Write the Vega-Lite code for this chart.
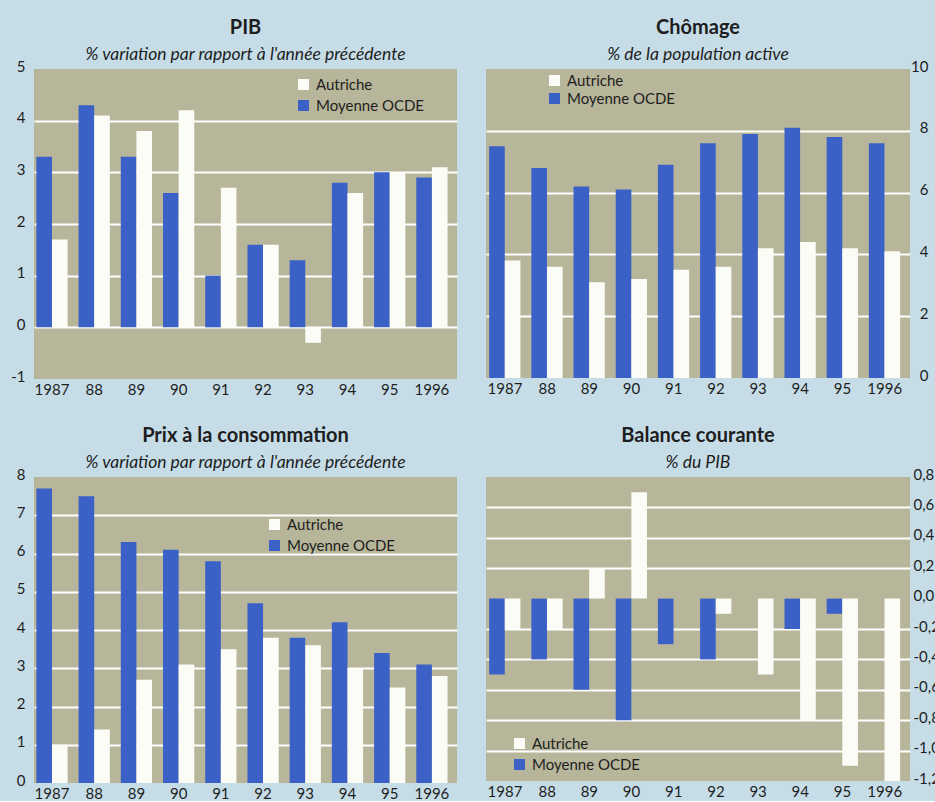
{
  "$schema": "https://vega.github.io/schema/vega-lite/v6.json",
  "background": "#c6dde8",
  "padding": {"left": 0, "top": 17, "right": 0, "bottom": 0},
  "config": {
    "font": "Lato",
    "locale": {"number": {"decimal": ",", "thousands": " ", "grouping": [3], "currency": ["", " €"], "minus": "-"}},
    "view": {"fill": "#b7b69a", "stroke": null},
    "axis": {
      "labelFont": "Lato", "labelFontSize": 15, "labelColor": "#1e1e1e",
      "ticks": false, "domain": false, "title": null,
      "gridColor": "#ffffff", "gridWidth": 2
    },
    "axisX": {"grid": false, "labelAngle": 0, "labelPadding": 3},
    "axisY": {"labelOffset": -3},
    "title": {
      "font": "Lato", "fontSize": 20, "fontWeight": "bold", "color": "#1e1e1e",
      "subtitleFont": "Lato", "subtitleFontSize": 17.5, "subtitleFontStyle": "italic",
      "subtitleColor": "#1e1e1e", "subtitlePadding": 8, "offset": -4, "anchor": "middle"
    },
    "legend": {
      "orient": "none", "title": null, "direction": "vertical",
      "symbolType": "square", "symbolSize": 121, "symbolStrokeWidth": 0, "symbolOpacity": 1,
      "labelFont": "Lato", "labelFontSize": 15, "labelColor": "#1e1e1e",
      "labelOffset": 5, "padding": 0, "rowPadding": 5
    }
  },
  "datasets": {
    "pib": [
      {"annee": "1987", "serie": "Moyenne OCDE", "valeur": 3.3}, {"annee": "1987", "serie": "Autriche", "valeur": 1.7},
      {"annee": "88", "serie": "Moyenne OCDE", "valeur": 4.3}, {"annee": "88", "serie": "Autriche", "valeur": 4.1},
      {"annee": "89", "serie": "Moyenne OCDE", "valeur": 3.3}, {"annee": "89", "serie": "Autriche", "valeur": 3.8},
      {"annee": "90", "serie": "Moyenne OCDE", "valeur": 2.6}, {"annee": "90", "serie": "Autriche", "valeur": 4.2},
      {"annee": "91", "serie": "Moyenne OCDE", "valeur": 1.0}, {"annee": "91", "serie": "Autriche", "valeur": 2.7},
      {"annee": "92", "serie": "Moyenne OCDE", "valeur": 1.6}, {"annee": "92", "serie": "Autriche", "valeur": 1.6},
      {"annee": "93", "serie": "Moyenne OCDE", "valeur": 1.3}, {"annee": "93", "serie": "Autriche", "valeur": -0.3},
      {"annee": "94", "serie": "Moyenne OCDE", "valeur": 2.8}, {"annee": "94", "serie": "Autriche", "valeur": 2.6},
      {"annee": "95", "serie": "Moyenne OCDE", "valeur": 3.0}, {"annee": "95", "serie": "Autriche", "valeur": 3.0},
      {"annee": "1996", "serie": "Moyenne OCDE", "valeur": 2.9}, {"annee": "1996", "serie": "Autriche", "valeur": 3.1}
    ],
    "chomage": [
      {"annee": "1987", "serie": "Moyenne OCDE", "valeur": 7.5}, {"annee": "1987", "serie": "Autriche", "valeur": 3.8},
      {"annee": "88", "serie": "Moyenne OCDE", "valeur": 6.8}, {"annee": "88", "serie": "Autriche", "valeur": 3.6},
      {"annee": "89", "serie": "Moyenne OCDE", "valeur": 6.2}, {"annee": "89", "serie": "Autriche", "valeur": 3.1},
      {"annee": "90", "serie": "Moyenne OCDE", "valeur": 6.1}, {"annee": "90", "serie": "Autriche", "valeur": 3.2},
      {"annee": "91", "serie": "Moyenne OCDE", "valeur": 6.9}, {"annee": "91", "serie": "Autriche", "valeur": 3.5},
      {"annee": "92", "serie": "Moyenne OCDE", "valeur": 7.6}, {"annee": "92", "serie": "Autriche", "valeur": 3.6},
      {"annee": "93", "serie": "Moyenne OCDE", "valeur": 7.9}, {"annee": "93", "serie": "Autriche", "valeur": 4.2},
      {"annee": "94", "serie": "Moyenne OCDE", "valeur": 8.1}, {"annee": "94", "serie": "Autriche", "valeur": 4.4},
      {"annee": "95", "serie": "Moyenne OCDE", "valeur": 7.8}, {"annee": "95", "serie": "Autriche", "valeur": 4.2},
      {"annee": "1996", "serie": "Moyenne OCDE", "valeur": 7.6}, {"annee": "1996", "serie": "Autriche", "valeur": 4.1}
    ],
    "prix": [
      {"annee": "1987", "serie": "Moyenne OCDE", "valeur": 7.7}, {"annee": "1987", "serie": "Autriche", "valeur": 1.0},
      {"annee": "88", "serie": "Moyenne OCDE", "valeur": 7.5}, {"annee": "88", "serie": "Autriche", "valeur": 1.4},
      {"annee": "89", "serie": "Moyenne OCDE", "valeur": 6.3}, {"annee": "89", "serie": "Autriche", "valeur": 2.7},
      {"annee": "90", "serie": "Moyenne OCDE", "valeur": 6.1}, {"annee": "90", "serie": "Autriche", "valeur": 3.1},
      {"annee": "91", "serie": "Moyenne OCDE", "valeur": 5.8}, {"annee": "91", "serie": "Autriche", "valeur": 3.5},
      {"annee": "92", "serie": "Moyenne OCDE", "valeur": 4.7}, {"annee": "92", "serie": "Autriche", "valeur": 3.8},
      {"annee": "93", "serie": "Moyenne OCDE", "valeur": 3.8}, {"annee": "93", "serie": "Autriche", "valeur": 3.6},
      {"annee": "94", "serie": "Moyenne OCDE", "valeur": 4.2}, {"annee": "94", "serie": "Autriche", "valeur": 3.0},
      {"annee": "95", "serie": "Moyenne OCDE", "valeur": 3.4}, {"annee": "95", "serie": "Autriche", "valeur": 2.5},
      {"annee": "1996", "serie": "Moyenne OCDE", "valeur": 3.1}, {"annee": "1996", "serie": "Autriche", "valeur": 2.8}
    ],
    "balance": [
      {"annee": "1987", "serie": "Moyenne OCDE", "valeur": -0.5}, {"annee": "1987", "serie": "Autriche", "valeur": -0.2},
      {"annee": "88", "serie": "Moyenne OCDE", "valeur": -0.4}, {"annee": "88", "serie": "Autriche", "valeur": -0.2},
      {"annee": "89", "serie": "Moyenne OCDE", "valeur": -0.6}, {"annee": "89", "serie": "Autriche", "valeur": 0.2},
      {"annee": "90", "serie": "Moyenne OCDE", "valeur": -0.8}, {"annee": "90", "serie": "Autriche", "valeur": 0.7},
      {"annee": "91", "serie": "Moyenne OCDE", "valeur": -0.3}, {"annee": "91", "serie": "Autriche", "valeur": 0.0},
      {"annee": "92", "serie": "Moyenne OCDE", "valeur": -0.4}, {"annee": "92", "serie": "Autriche", "valeur": -0.1},
      {"annee": "93", "serie": "Moyenne OCDE", "valeur": 0.0}, {"annee": "93", "serie": "Autriche", "valeur": -0.5},
      {"annee": "94", "serie": "Moyenne OCDE", "valeur": -0.2}, {"annee": "94", "serie": "Autriche", "valeur": -0.8},
      {"annee": "95", "serie": "Moyenne OCDE", "valeur": -0.1}, {"annee": "95", "serie": "Autriche", "valeur": -1.1},
      {"annee": "1996", "serie": "Moyenne OCDE", "valeur": 0.0}, {"annee": "1996", "serie": "Autriche", "valeur": -1.2}
    ]
  },
  "columns": 2,
  "spacing": {"row": 28, "column": 29},
  "resolve": {"legend": {"color": "independent"}},
  "concat": [
    {
      "width": 423, "height": 310,
      "title": {"text": "PIB", "subtitle": "% variation par rapport à l'année précédente"},
      "data": {"name": "pib"},
      "mark": {"type": "bar"},
      "encoding": {
        "x": {"field": "annee", "type": "ordinal", "sort": null,
              "scale": {"paddingInner": 0.26, "paddingOuter": 0.14, "align": 0.2}},
        "xOffset": {"field": "serie", "sort": ["Moyenne OCDE", "Autriche"], "scale": {"paddingInner": 0, "paddingOuter": 0}},
        "y": {"field": "valeur", "type": "quantitative",
              "scale": {"domain": [-1, 5], "nice": false, "zero": false},
              "axis": {"orient": "left", "values": [-1, 0, 1, 2, 3, 4, 5], "format": "d",
                       "labelPadding": 9, "minExtent": 34, "maxExtent": 34,
                       "gridOpacity": {"condition": {"test": "datum.value <= -1 || datum.value >= 5", "value": 0}, "value": 1}}},
        "color": {"field": "serie", "type": "nominal",
                  "scale": {"domain": ["Autriche", "Moyenne OCDE"], "range": ["#fcfcf7", "#3b61c6"]},
                  "legend": {"legendX": 262, "legendY": 8}}
      }
    },
    {
      "width": 424, "height": 309,
      "title": {"text": "Chômage", "subtitle": "% de la population active"},
      "data": {"name": "chomage"},
      "mark": {"type": "bar"},
      "encoding": {
        "x": {"field": "annee", "type": "ordinal", "sort": null,
              "scale": {"paddingInner": 0.25, "paddingOuter": 0.15, "align": 0.25}},
        "xOffset": {"field": "serie", "sort": ["Moyenne OCDE", "Autriche"], "scale": {"paddingInner": 0, "paddingOuter": 0}},
        "y": {"field": "valeur", "type": "quantitative",
              "scale": {"domain": [0, 10], "nice": false},
              "axis": {"orient": "right", "values": [0, 2, 4, 6, 8, 10], "format": "d",
                       "labelAlign": "right", "labelPadding": 18,
                       "gridOpacity": {"condition": {"test": "datum.value <= 0 || datum.value >= 10", "value": 0}, "value": 1}}},
        "color": {"field": "serie", "type": "nominal",
                  "scale": {"domain": ["Autriche", "Moyenne OCDE"], "range": ["#fcfcf7", "#3b61c6"]},
                  "legend": {"legendX": 61, "legendY": 4, "rowPadding": 2}}
      }
    },
    {
      "width": 423, "height": 306,
      "title": {"text": "Prix à la consommation", "subtitle": "% variation par rapport à l'année précédente"},
      "data": {"name": "prix"},
      "mark": {"type": "bar"},
      "encoding": {
        "x": {"field": "annee", "type": "ordinal", "sort": null,
              "scale": {"paddingInner": 0.26, "paddingOuter": 0.14, "align": 0.2}},
        "xOffset": {"field": "serie", "sort": ["Moyenne OCDE", "Autriche"], "scale": {"paddingInner": 0, "paddingOuter": 0}},
        "y": {"field": "valeur", "type": "quantitative",
              "scale": {"domain": [0, 8], "nice": false},
              "axis": {"orient": "left", "values": [0, 1, 2, 3, 4, 5, 6, 7, 8], "format": "d",
                       "labelPadding": 9, "minExtent": 34, "maxExtent": 34,
                       "gridOpacity": {"condition": {"test": "datum.value <= 0 || datum.value >= 8", "value": 0}, "value": 1}}},
        "color": {"field": "serie", "type": "nominal",
                  "scale": {"domain": ["Autriche", "Moyenne OCDE"], "range": ["#fcfcf7", "#3b61c6"]},
                  "legend": {"legendX": 233, "legendY": 40}}
      }
    },
    {
      "width": 424, "height": 304,
      "title": {"text": "Balance courante", "subtitle": "% du PIB"},
      "data": {"name": "balance"},
      "mark": {"type": "bar"},
      "encoding": {
        "x": {"field": "annee", "type": "ordinal", "sort": null,
              "scale": {"paddingInner": 0.25, "paddingOuter": 0.15, "align": 0.25}},
        "xOffset": {"field": "serie", "sort": ["Moyenne OCDE", "Autriche"], "scale": {"paddingInner": 0, "paddingOuter": 0}},
        "y": {"field": "valeur", "type": "quantitative",
              "scale": {"domain": [-1.2, 0.8], "nice": false, "zero": false},
              "axis": {"orient": "right", "values": [-1.2, -1.0, -0.8, -0.6, -0.4, -0.2, 0, 0.2, 0.4, 0.6, 0.8], "format": ".1f",
                       "labelAlign": "left", "labelPadding": 3,
                       "gridOpacity": {"condition": {"test": "abs(datum.value) < 0.01 || datum.value < -1.19 || datum.value > 0.79", "value": 0}, "value": 1}}},
        "color": {"field": "serie", "type": "nominal",
                  "scale": {"domain": ["Autriche", "Moyenne OCDE"], "range": ["#fcfcf7", "#3b61c6"]},
                  "legend": {"legendX": 26, "legendY": 259}}
      }
    }
  ]
}
